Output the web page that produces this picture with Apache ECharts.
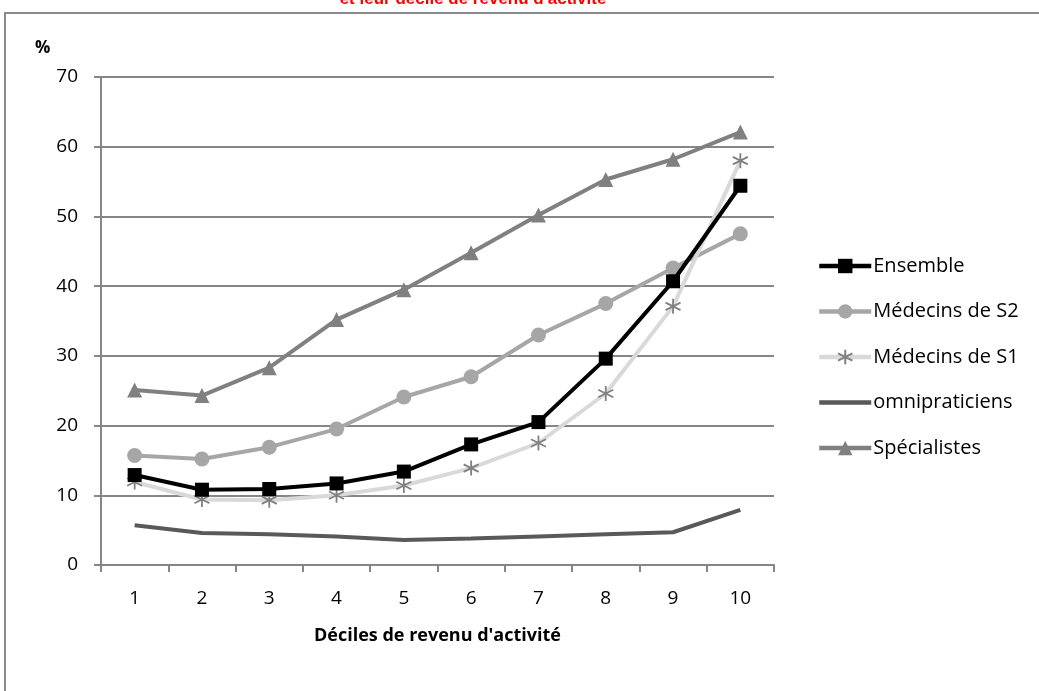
<!DOCTYPE html>
<html>
<head>
<meta charset="utf-8">
<script src="https://cdn.jsdelivr.net/npm/echarts@6/dist/echarts.min.js"></script>
<style>
  html, body { margin: 0; padding: 0; background: #ffffff; }
  #chart { width: 1039px; height: 691px; }
</style>
</head>
<body>
<div id="chart"></div>
<script>
// Déciles de revenu d'activité
const deciles = ['1', '2', '3', '4', '5', '6', '7', '8', '9', '10'];

// Part (%) par décile
const ensemble       = [12.9, 10.8, 10.9, 11.7, 13.4, 17.3, 20.5, 29.6, 40.7, 54.4];
const medecinsS2     = [15.7, 15.2, 16.9, 19.5, 24.1, 27.0, 33.0, 37.5, 42.6, 47.5];
const medecinsS1     = [11.9, 9.4, 9.3, 10.0, 11.4, 13.9, 17.5, 24.6, 37.1, 58.0];
const omnipraticiens = [5.7, 4.6, 4.4, 4.1, 3.6, 3.8, 4.1, 4.4, 4.7, 7.9];
const specialistes   = [25.1, 24.3, 28.3, 35.2, 39.5, 44.8, 50.2, 55.3, 58.2, 62.1];

const FONT = '"Open Sans", Lato, sans-serif';
const asterisk = 'path://M0,-10L0,10M-8.7,-5L8.7,5M-8.7,5L8.7,-5';

const chart = echarts.init(document.getElementById('chart'), null, { renderer: 'canvas' });

chart.setOption({
  animation: false,
  backgroundColor: '#ffffff',
  graphic: [
    {
      // cadre du graphique
      type: 'rect',
      shape: { x: 5, y: 13, width: 1100, height: 760 },
      style: { fill: 'none', stroke: '#8a8a8a', lineWidth: 2 },
      silent: true
    },
    {
      type: 'text',
      x: 473, y: -9,
      style: {
        text: "et leur décile de revenu d'activité",
        fill: '#ff0000',
        font: 'bold 17px "Liberation Sans", Arial, sans-serif',
        textAlign: 'center'
      }
    },
    {
      type: 'text',
      x: 35, y: 40,
      style: { text: '%', fill: '#000', font: 'bold 17px ' + FONT }
    }
  ],
  grid: { left: 101, right: 265, top: 77, bottom: 126, containLabel: false },
  legend: {
    orient: 'vertical',
    left: 812,
    top: 251,
    itemWidth: 52,
    itemHeight: 18,
    itemGap: 25.5,
    lineStyle: { width: 4.5 },
    textStyle: { fontFamily: FONT, fontSize: 20, color: '#000', padding: [0, 0, 0, -3] },
    data: [
      { name: 'Ensemble' },
      { name: 'Médecins de S2' },
      { name: 'Médecins de S1' },
      { name: 'omnipraticiens', itemStyle: { opacity: 0 } },
      { name: 'Spécialistes' }
    ]
  },
  xAxis: {
    type: 'category',
    data: deciles,
    boundaryGap: true,
    name: "Déciles de revenu d'activité",
    nameLocation: 'middle',
    nameGap: 62,
    nameTextStyle: { fontFamily: FONT, fontSize: 18, fontWeight: 'bold', color: '#000' },
    axisLine: { lineStyle: { color: '#868686', width: 2 } },
    axisTick: { show: true, length: 7, lineStyle: { color: '#868686', width: 2 } },
    axisLabel: { fontFamily: FONT, fontSize: 19, color: '#000', margin: 24 }
  },
  yAxis: {
    type: 'value',
    min: 0,
    max: 70,
    interval: 10,
    axisLine: { show: true, lineStyle: { color: '#868686', width: 2 } },
    axisTick: { show: true, length: 7, lineStyle: { color: '#868686', width: 2 } },
    axisLabel: { fontFamily: FONT, fontSize: 19, color: '#000', margin: 23 },
    splitLine: { lineStyle: { color: '#868686', width: 2 } }
  },
  series: [
    {
      name: 'Ensemble', type: 'line', data: ensemble, z: 5,
      symbol: 'rect', symbolSize: 14,
      lineStyle: { color: '#000000', width: 4 },
      itemStyle: { color: '#000000' }
    },
    {
      name: 'Médecins de S2', type: 'line', data: medecinsS2, z: 3,
      symbol: 'circle', symbolSize: 15,
      lineStyle: { color: '#a6a6a6', width: 4 },
      itemStyle: { color: '#a6a6a6' }
    },
    {
      name: 'Médecins de S1', type: 'line', data: medecinsS1, z: 4,
      symbol: asterisk, symbolSize: 15,
      lineStyle: { color: '#d9d9d9', width: 4 },
      itemStyle: { color: '#d9d9d9', borderColor: '#808080', borderWidth: 1.8 }
    },
    {
      name: 'omnipraticiens', type: 'line', data: omnipraticiens, z: 2,
      symbol: 'none',
      lineStyle: { color: '#595959', width: 4 },
      itemStyle: { color: '#595959' }
    },
    {
      name: 'Spécialistes', type: 'line', data: specialistes, z: 2,
      symbol: 'triangle', symbolSize: 15,
      lineStyle: { color: '#808080', width: 4 },
      itemStyle: { color: '#808080' }
    }
  ]
});
</script>
</body>
</html>
